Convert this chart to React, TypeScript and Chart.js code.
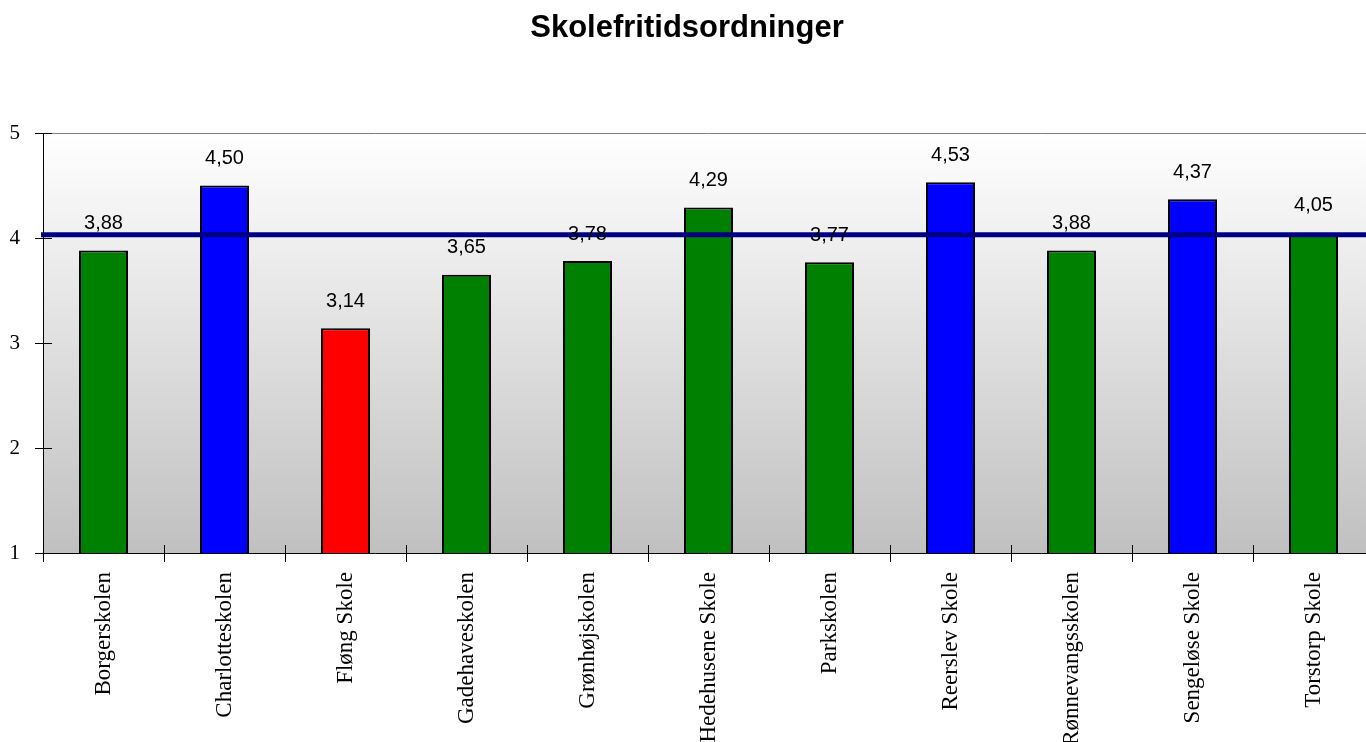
import React, { useEffect, useRef } from "react";
import { Chart, registerables } from "chart.js";

Chart.register(...registerables);

const TITLE = "Skolefritidsordninger";
const categories = [
  "Borgerskolen",
  "Charlotteskolen",
  "Fløng Skole",
  "Gadehaveskolen",
  "Grønhøjskolen",
  "Hedehusene Skole",
  "Parkskolen",
  "Reerslev Skole",
  "Rønnevangsskolen",
  "Sengeløse Skole",
  "Torstorp Skole",
];
const values = [3.88, 4.5, 3.14, 3.65, 3.78, 4.29, 3.77, 4.53, 3.88, 4.37, 4.05];
const barColors = [
  "#008000",
  "#0000FF",
  "#FF0000",
  "#008000",
  "#008000",
  "#008000",
  "#008000",
  "#0000FF",
  "#008000",
  "#0000FF",
  "#008000",
];
const averageValue = 4.03;
const yTicks = [1, 2, 3, 4, 5];

const SANS = "'Liberation Sans', Arial, sans-serif";
const SERIF = "'Liberation Serif', 'Times New Roman', serif";

const decorPlugin = {
  id: "decor",
  beforeDraw(chart: any) {
    const { ctx, chartArea } = chart;
    const g = ctx.createLinearGradient(0, chartArea.top, 0, chartArea.bottom);
    g.addColorStop(0, "#ffffff");
    g.addColorStop(1, "#c0c0c0");
    ctx.save();
    ctx.fillStyle = g;
    ctx.fillRect(chartArea.left, chartArea.top, chartArea.right - chartArea.left, chartArea.bottom - chartArea.top);
    ctx.restore();
  },
  afterDatasetsDraw(chart: any) {
    const { ctx, chartArea, scales } = chart;
    const x = scales.x;
    const y = scales.y;
    ctx.save();
    // top border
    ctx.strokeStyle = "#808080";
    ctx.lineWidth = 1;
    ctx.beginPath();
    ctx.moveTo(chartArea.left, chartArea.top + 0.5);
    ctx.lineTo(chartArea.right, chartArea.top + 0.5);
    ctx.stroke();
    // axes
    ctx.strokeStyle = "#000000";
    ctx.beginPath();
    ctx.moveTo(chartArea.left + 0.5, chartArea.top);
    ctx.lineTo(chartArea.left + 0.5, chartArea.bottom);
    ctx.moveTo(chartArea.left, chartArea.bottom + 0.5);
    ctx.lineTo(chartArea.right, chartArea.bottom + 0.5);
    for (const t of yTicks) {
      const py = Math.round(y.getPixelForValue(t)) + 0.5;
      ctx.moveTo(chartArea.left - 8, py);
      ctx.lineTo(chartArea.left + 9, py);
    }
    const n = categories.length;
    const cw = (chartArea.right - chartArea.left) / n;
    for (let i = 0; i <= n; i++) {
      const px = Math.round(x.getPixelForValue(i) - cw / 2) + 0.5;
      ctx.moveTo(px, chartArea.bottom - 8);
      ctx.lineTo(px, chartArea.bottom + 9);
    }
    ctx.stroke();
    // average line
    const ay = y.getPixelForValue(averageValue);
    ctx.strokeStyle = "#000080";
    ctx.lineWidth = 5;
    ctx.beginPath();
    ctx.moveTo(chartArea.left - 2, ay);
    ctx.lineTo(chartArea.right, ay);
    ctx.stroke();
    // value labels
    ctx.fillStyle = "#000000";
    ctx.font = `20px ${SANS}`;
    ctx.textAlign = "center";
    ctx.textBaseline = "middle";
    const meta = chart.getDatasetMeta(0);
    meta.data.forEach((bar: any, i: number) => {
      ctx.fillText(values[i].toFixed(2).replace(".", ","), bar.x, bar.y - 27);
    });
    ctx.restore();
  },
};

export default function App() {
  const ref = useRef<HTMLCanvasElement | null>(null);
  useEffect(() => {
    if (!ref.current) return;
    const chart = new Chart(ref.current, {
      type: "bar",
      data: {
        labels: categories,
        datasets: [
          {
            data: values,
            backgroundColor: barColors,
            borderColor: "#000000",
            borderWidth: 2,
            barPercentage: 0.405,
            categoryPercentage: 1,
          },
        ],
      },
      plugins: [decorPlugin],
      options: {
        animation: false,
        responsive: false,
        maintainAspectRatio: false,
        layout: { padding: { left: 0, right: 0, top: 0, bottom: 0 } },
        plugins: {
          legend: { display: false },
          tooltip: { enabled: false },
          title: {
            display: true,
            text: TITLE,
            color: "#000000",
            font: { family: SANS, size: 31, weight: "bold" },
            padding: { top: 10, bottom: 85.8 },
          },
        },
        scales: {
          x: {
            grid: { display: false, drawTicks: false },
            border: { display: false },
            ticks: {
              color: "#000000",
              font: { family: SERIF, size: 23 },
              minRotation: 90,
              maxRotation: 90,
              padding: 19,
              autoSkip: false,
            },
            afterFit(scale: any) {
              scale.height = 189;
            },
          },
          y: {
            min: 1,
            max: 5,
            grid: { display: false, drawTicks: false },
            border: { display: false },
            ticks: {
              stepSize: 1,
              color: "#000000",
              font: { family: SERIF, size: 21 },
              padding: 23,
            },
            afterFit(scale: any) {
              scale.width = 43;
            },
          },
        },
      },
    } as any);
    return () => chart.destroy();
  }, []);
  return (
    <div style={{ position: "fixed", left: 0, top: 0, width: 1366, height: 742, overflow: "hidden", background: "#ffffff" }}>
      <canvas ref={ref} width={1374} height={742} style={{ display: "block" }} />
    </div>
  );
}
